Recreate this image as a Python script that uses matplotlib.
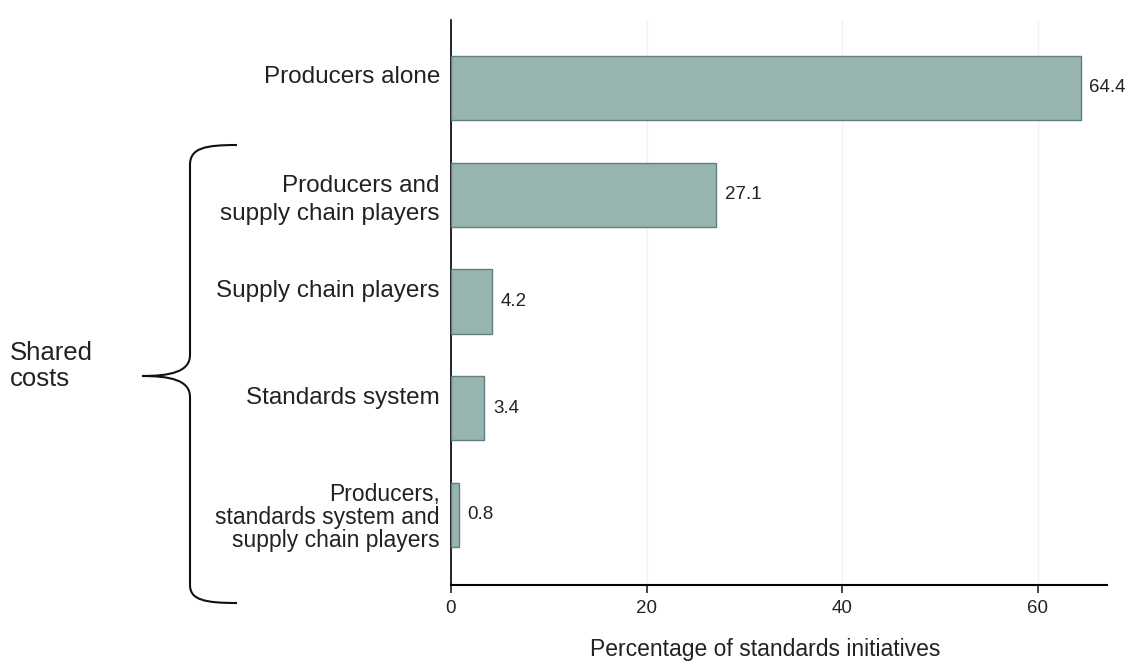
import numpy as np
import matplotlib.pyplot as plt
import matplotlib.transforms as mtransforms
from matplotlib.path import Path
from matplotlib.patches import PathPatch

plt.rcParams['font.family'] = ['Liberation Sans', 'DejaVu Sans']

categories = ["Producers alone",
              "Producers and\nsupply chain players",
              "Supply chain players",
              "Standards system",
              "Producers,\nstandards system and\nsupply chain players"]
values = [64.4, 27.1, 4.2, 3.4, 0.8]
xticks = [0, 20, 40, 60]

W, H = 1133, 661
fig = plt.figure(figsize=(W / 100, H / 100), dpi=100)
ax = fig.add_axes([451 / W, 1 - 585 / H, (1107 - 451) / W, (585 - 20) / H])

ypos = np.arange(len(categories))
ax.barh(ypos, values, height=0.6, color='#97b4ae', edgecolor='#5f7f85', linewidth=1.0, zorder=3)
for y, v in zip(ypos, values):
    ax.text(v + 0.9, y, f"{v:.1f}", va='center', ha='left', fontsize=13.5, color='#222222')

ax.set_ylim(4.656, -0.637)
ax.set_xlim(0, 67.1)
ax.set_yticks(ypos)
ax.set_yticklabels(categories, fontsize=17.5, color='#222222')
ax.tick_params(axis='y', length=0, pad=8)

# single-line labels sit a bit above the bar centre, multi-line ones are centred
up = mtransforms.ScaledTranslation(0, 13 / 100, fig.dpi_scale_trans)
for lbl, cat in zip(ax.get_yticklabels(), categories):
    n = cat.count("\n")
    if n == 0:
        lbl.set_transform(lbl.get_transform() + up)
    elif n == 1:
        lbl.set_linespacing(1.35)
    else:
        lbl.set_fontsize(16.5)
        lbl.set_linespacing(1.0)

ax.set_xticks(xticks)
ax.tick_params(axis='x', length=6, width=1.2, labelsize=13.5, pad=5, colors='#222222')
ax.grid(axis='x', color='#eef2f2', linewidth=1.0, zorder=0)
ax.spines['top'].set_visible(False)
ax.spines['right'].set_visible(False)
ax.spines['left'].set_linewidth(1.2)
ax.spines['bottom'].set_linewidth(1.5)
ax.set_xlabel("Percentage of standards initiatives", fontsize=16.5, color='#222222', va='center')
ax.xaxis.set_label_coords(0.479, -0.115)

# curly brace in pixel coordinates, converted to figure fractions
def fp(x, y):
    return (x / W, 1 - y / H)

pts = [(237, 145), (205, 145), (190, 148), (190, 165),
       (190, 355), (190, 372), (170, 376), (142, 376),
       (170, 376), (190, 380), (190, 397),
       (190, 585), (190, 600), (205, 603), (237, 603)]
codes = [Path.MOVETO, Path.CURVE4, Path.CURVE4, Path.CURVE4,
         Path.LINETO, Path.CURVE4, Path.CURVE4, Path.CURVE4,
         Path.CURVE4, Path.CURVE4, Path.CURVE4,
         Path.LINETO, Path.CURVE4, Path.CURVE4, Path.CURVE4]
brace = Path([fp(x, y) for x, y in pts], codes)
fig.patches.append(PathPatch(brace, facecolor='none', edgecolor='#111111', linewidth=1.5,
                             transform=fig.transFigure))

fig.text(10 / W, 1 - 366 / H, "Shared\ncosts", fontsize=18.5, va='center', ha='left',
         linespacing=1.1, color='#222222')

fig.savefig('out.png', dpi=100)
